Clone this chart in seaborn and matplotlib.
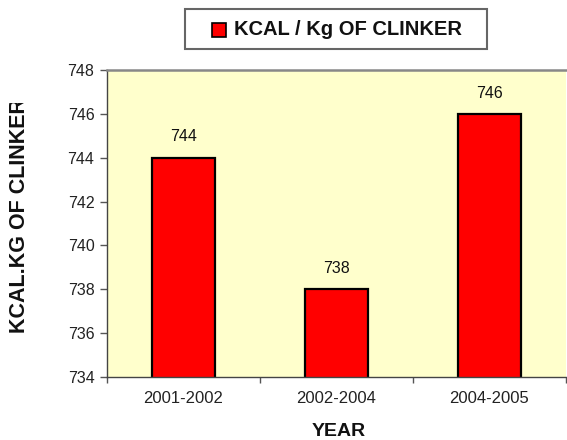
import matplotlib
matplotlib.use("Agg")
import matplotlib.pyplot as plt
import seaborn as sns
import pandas as pd
from matplotlib.patches import Rectangle
from matplotlib.transforms import Bbox

years = ["2001-2002", "2002-2004", "2004-2005"]
kcal = [744, 738, 746]
yticks = [734, 736, 738, 740, 742, 744, 746, 748]

sns.set_theme(style="white")
plt.rcParams['font.family'] = ['Liberation Sans', 'DejaVu Sans']

df = pd.DataFrame({"YEAR": years, "KCAL": kcal})

W, H = 567, 440
fig = plt.figure(figsize=(W / 100, H / 100), dpi=100)
ax = fig.add_axes([107 / W, 1 - 377 / H, (566 - 107) / W, (377 - 70) / H])
ax.set_facecolor("#FFFFCC")

sns.barplot(data=df, x="YEAR", y="KCAL", color="#FF0000", width=0.41,
            edgecolor="black", linewidth=1.6, saturation=1, ax=ax)

ax.set_ylim(734, 748)
ax.set_xlim(-0.5, 2.5)
ax.set_yticks(yticks)
ax.set_yticklabels([str(v) for v in yticks], fontsize=11.5, color="#222222")
ax.set_xticks([-0.5, 0.5, 1.5, 2.5], minor=False)
ax.set_xticklabels([])
ax.set_xticks([0, 1, 2], minor=True)
ax.set_xticklabels(years, minor=True, fontsize=12, color="#222222")
ax.tick_params(axis="x", which="minor", length=0, pad=10)
ax.tick_params(axis="x", which="major", length=4, width=1, color="#555555", direction="out", bottom=True)
ax.tick_params(axis="y", length=5, width=1, color="#555555", direction="out", left=True, pad=4)

for side in ["left", "bottom"]:
    ax.spines[side].set_color("#444444")
    ax.spines[side].set_linewidth(1)
ax.spines["top"].set_color("#888888")
ax.spines["top"].set_linewidth(1.8)
ax.spines["right"].set_visible(False)

for i, v in enumerate(kcal):
    ax.text(i, v + 0.95, str(v), ha="center", va="center", fontsize=11.5, color="#111111")

ax.set_xlabel("")
ax.set_ylabel("")
fig.text(339 / W, 1 - 431 / H, "YEAR", ha="center", va="center",
         fontsize=14, fontweight="bold", color="#111111")

# y-axis title (clipped at the top as in the original chart)
yl = fig.text(20 / W, 1 - 333 / H, "KCAL.KG OF CLINKER", rotation=90, ha="center",
              va="bottom", fontsize=15.5, fontweight="bold", color="#111111")
yl.set_clip_box(Bbox.from_extents(0, 0, 60, H - 103))
yl.set_clip_on(True)

# legend box
fig.add_artist(Rectangle((185 / W, 1 - 49 / H), (487 - 185) / W, 40 / H,
                         transform=fig.transFigure, facecolor="white",
                         edgecolor="#666666", linewidth=1.5))
fig.add_artist(Rectangle((212 / W, 1 - 37 / H), 14 / W, 14 / H,
                         transform=fig.transFigure, facecolor="#FF0000",
                         edgecolor="black", linewidth=1.2))
fig.text(234 / W, 1 - 29.5 / H, "KCAL / Kg OF CLINKER", ha="left", va="center",
         fontsize=14.5, fontweight="bold", color="#111111")

fig.savefig("out.png", dpi=100)
